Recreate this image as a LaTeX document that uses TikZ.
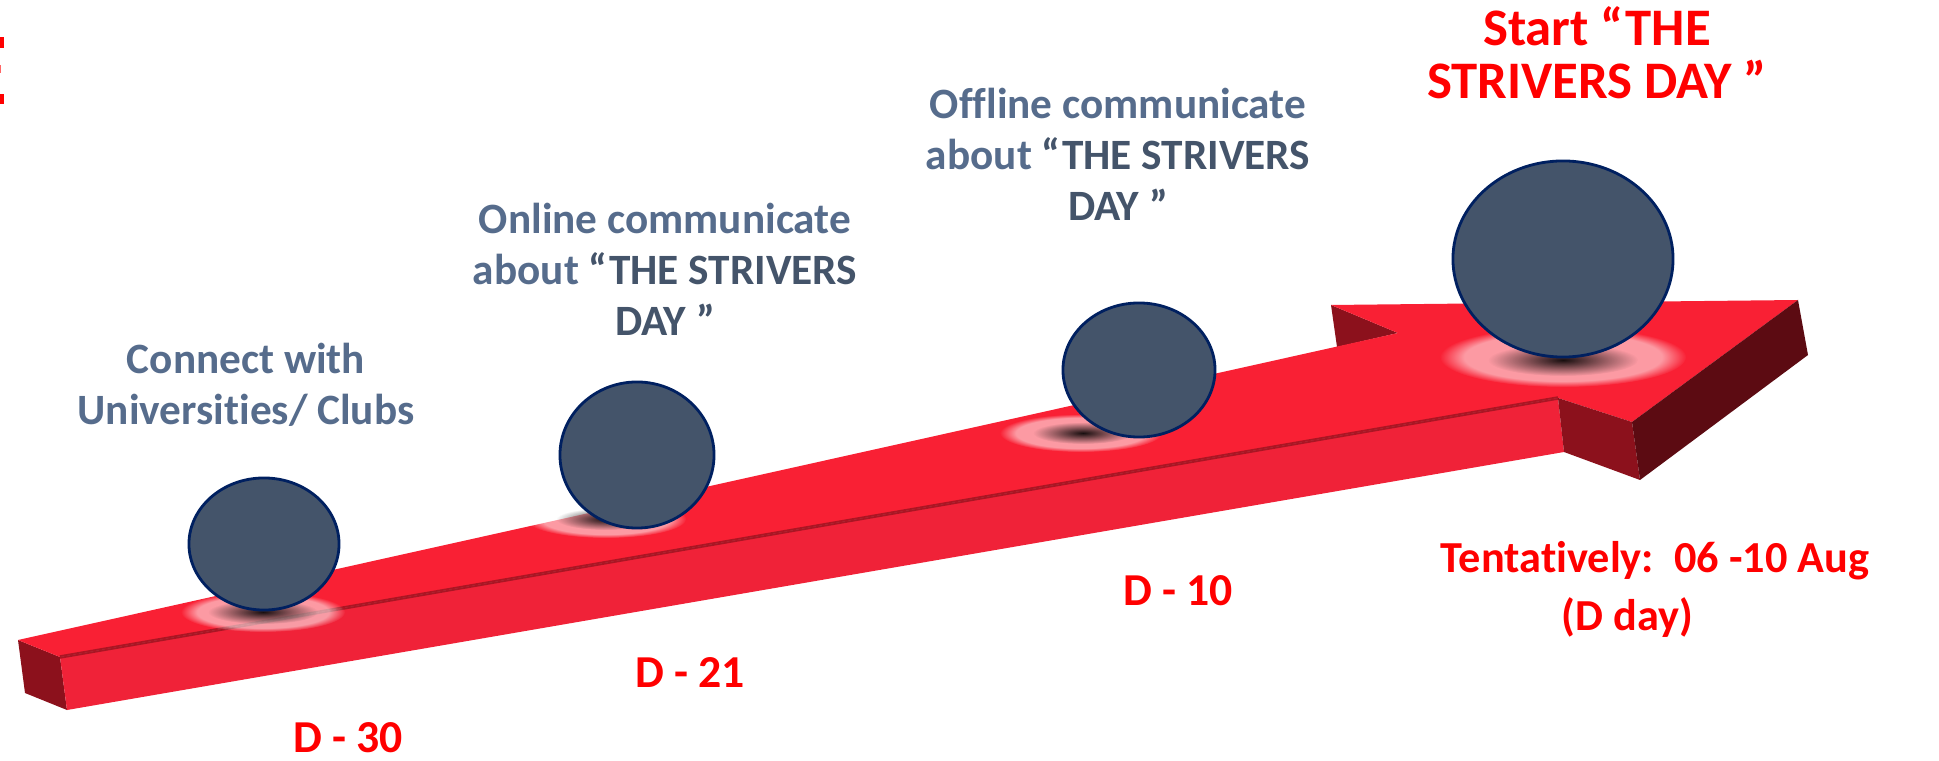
\documentclass[tikz,border=0pt]{standalone}
\usepackage{fontspec}
\setmainfont{Carlito}[Ligatures = NoCommon]
\usetikzlibrary{shapes.geometric}
\usetikzlibrary{fadings}
\definecolor{slate}{RGB}{86,108,140}
\definecolor{slatedark}{RGB}{68,84,106}
\definecolor{ballfill}{RGB}{68,84,106}
\definecolor{ballline}{RGB}{0,32,96}
\definecolor{topred}{RGB}{249,32,52}
\definecolor{frontred}{RGB}{240,34,56}
\definecolor{sidered}{RGB}{140,17,28}
\definecolor{darkred}{RGB}{92,11,18}
\tikzfading[name = spot, inner color = transparent!0, outer color = transparent!100]
\tikzset{ball/.style = {ellipse, draw = ballline, line width = .8pt, fill = ballfill, inner sep = 0},
         glow/.style = {white, opacity = .55, path fading = circle with fuzzy edge 20 percent},
         core/.style = {black, opacity = .9, path fading = spot},
         note/.style = {align = center, text = slate, font = \bfseries\fontsize{12.3}{14.5}\selectfont},
         day/.style = {align = center, text = red, font = \bfseries\fontsize{13}{16.5}\selectfont},
         headline/.style = {align = center, text = red, font = \bfseries\fontsize{15}{15}\selectfont}}

\begin{document}
\begin{tikzpicture}[x = 0.01cm, y = -0.01cm]
      \useasboundingbox (0, 0) rectangle (1939, 761);
      \fill [red] (0, 37) rectangle (4, 48);
      \fill [red!60] (0, 65) rectangle (1, 73);
      \fill [red] (0, 94) rectangle (4, 104);
      \fill [sidered] (18, 640) -- (60, 657) -- (67, 710) -- (25, 693) -- cycle;
      \fill [frontred] (60, 657) -- (1558, 398) -- (1564, 452) -- (67, 710) -- cycle;
      \fill [sidered] (1331, 305) -- (1337, 347) -- (1398, 333) -- cycle;
      \fill [topred] (18, 640) -- (1398, 333) -- (1331, 305) -- (1798, 300) -- (1632, 422) -- (1558, 398) -- (60, 657) -- cycle;
      \fill [sidered] (1558, 398) -- (1632, 422) -- (1640, 480) -- (1564, 452) -- cycle;
      \fill [darkred] (1798, 300) -- (1808, 355) -- (1640, 480) -- (1632, 422) -- cycle;
      \draw [sidered, line width = 1pt, opacity = .7] (60, 657) -- (1558, 398);
      \fill [glow] (263, 612) ellipse [x radius = 82, y radius = 20];
      \fill [core] (263, 612) ellipse [x radius = 55, y radius = 12];
      \fill [glow] (606, 519) ellipse [x radius = 80, y radius = 19];
      \fill [core] (606, 519) ellipse [x radius = 50, y radius = 11];
      \fill [glow] (1081, 433) ellipse [x radius = 81, y radius = 19];
      \fill [core] (1083, 433) ellipse [x radius = 50, y radius = 11];
      \fill [glow] (1563, 357) ellipse [x radius = 123, y radius = 30];
      \fill [core] (1563, 360) ellipse [x radius = 75, y radius = 16];
      \node [ball, minimum width = 1.5cm, minimum height = 1.32cm] (ball1) at (264, 544) {};
      \node [ball, minimum width = 1.54cm, minimum height = 1.46cm] (ball2) at (637, 455) {};
      \node [ball, minimum width = 1.52cm, minimum height = 1.34cm] (ball3) at (1139, 370) {};
      \node [ball, minimum width = 2.2cm, minimum height = 1.96cm] (ball4) at (1563, 259) {};
      \node [note] (connect) at (246, 385) {Connect with\\Universities/ Clubs};
      \node [note] (online) at (665, 269) {Online communicate\\about {\color{slatedark}“THE STRIVERS}\\{\color{slatedark}DAY ”}};
      \node [note] (offline) at (1118, 154) {Offline communicate\\about {\color{slatedark}“THE STRIVERS}\\{\color{slatedark}DAY ”}};
      \node [headline] (start) at (1597, 53) {Start “THE\\STRIVERS DAY ”};
      \node [day, inner sep = 1pt] (d30) at (348, 738) {D - 30};
      \node [day] (d21) at (690, 673) {D - 21};
      \node [day] (d10) at (1178, 591) {D - 10};
      \node [day, font = \bfseries\fontsize{12.6}{16.5}\selectfont] (dday) at (1655, 589) {Tentatively:\ \ 06 -10 Aug\\(D day)\hspace*{0.55cm}};
    \end{tikzpicture}
\end{document}
